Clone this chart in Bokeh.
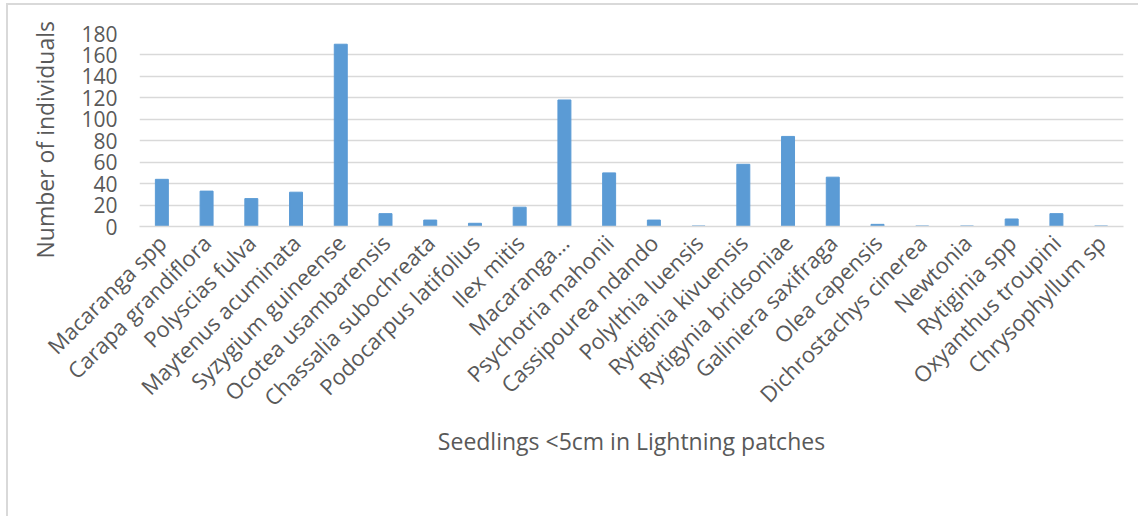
from bokeh.plotting import figure
from bokeh.models import ColumnDataSource, FactorRange, Range1d, FixedTicker, Title
from bokeh.embed import file_html
from bokeh.resources import INLINE
import math

species = [
    "Macaranga spp", "Carapa grandiflora", "Polyscias fulva", "Maytenus acuminata",
    "Syzygium guineense", "Ocotea usambarensis", "Chassalia subochreata",
    "Podocarpus latifolius", "Ilex mitis", "Macaranga…", "Psychotria mahonii",
    "Cassipourea ndando", "Polylthia luensis", "Rytiginia kivuensis",
    "Rytigynia bridsoniae", "Galiniera saxifraga", "Olea capensis",
    "Dichrostachys cinerea", "Newtonia", "Rytiginia spp", "Oxyanthus troupini",
    "Chrysophyllum sp",
]
counts = [44, 33, 26, 32, 170, 12, 6, 3, 18, 118, 50, 6, 0.5, 58, 84, 46, 2,
          0.5, 0.5, 7, 12, 0.5]
y_ticks = [0, 20, 40, 60, 80, 100, 120, 140, 160, 180]

FONT = "Open Sans"
TEXT = "#595959"
GRID = "#d9d9d9"
BAR = "#5b9bd5"

source = ColumnDataSource(data=dict(species=species, counts=counts))

# chart area sits inside a light grey border drawn on its left and top edges
p = figure(
    width=1132, height=513,
    x_range=FactorRange(*species, range_padding=0),
    y_range=Range1d(0, 180),
    output_backend="svg", toolbar_location=None,
    min_border_left=131, min_border_right=17,
    min_border_top=28, min_border_bottom=292,
    styles={
        "margin-left": "6px", "margin-top": "3px",
        "border-left": "2px solid #d9d9d9", "border-top": "2px solid #d9d9d9",
    },
)

p.vbar(x="species", top="counts", width=0.29, source=source,
       fill_color=BAR, line_color=BAR)

p.outline_line_color = None
p.background_fill_color = "white"
p.border_fill_color = "white"

# gridlines
p.xgrid.grid_line_color = None
p.ygrid.grid_line_color = GRID
p.ygrid.grid_line_width = 1.5

# y axis
p.yaxis.ticker = FixedTicker(ticks=y_ticks)
p.yaxis.axis_line_color = None
p.yaxis.major_tick_line_color = None
p.yaxis.minor_tick_line_color = None
p.yaxis.major_label_text_font = FONT
p.yaxis.major_label_text_font_size = "21px"
p.yaxis.major_label_text_color = TEXT
p.yaxis.major_label_standoff = 16

# y axis title, starting a little below the frame bottom
p.add_layout(Title(
    text="Number of individuals", align="left", offset=-32, standoff=36,
    text_font=FONT, text_font_size="23px", text_font_style="normal",
    text_color=TEXT,
), "left")

# x axis
p.xaxis.axis_line_color = GRID
p.xaxis.axis_line_width = 1.5
p.xaxis.major_tick_line_color = None
p.xaxis.minor_tick_line_color = None
p.xaxis.major_label_orientation = math.pi / 4
p.xaxis.major_label_text_font = FONT
p.xaxis.major_label_text_font_size = "22px"
p.xaxis.major_label_text_color = TEXT
p.xaxis.major_label_standoff = 6
p.xaxis.axis_label = "Seedlings <5cm in Lightning patches"
p.xaxis.axis_label_text_font = FONT
p.xaxis.axis_label_text_font_size = "23px"
p.xaxis.axis_label_text_font_style = "normal"
p.xaxis.axis_label_text_color = TEXT
p.xaxis.axis_label_standoff = 0

open("out.html", "w").write(file_html(p, INLINE))
